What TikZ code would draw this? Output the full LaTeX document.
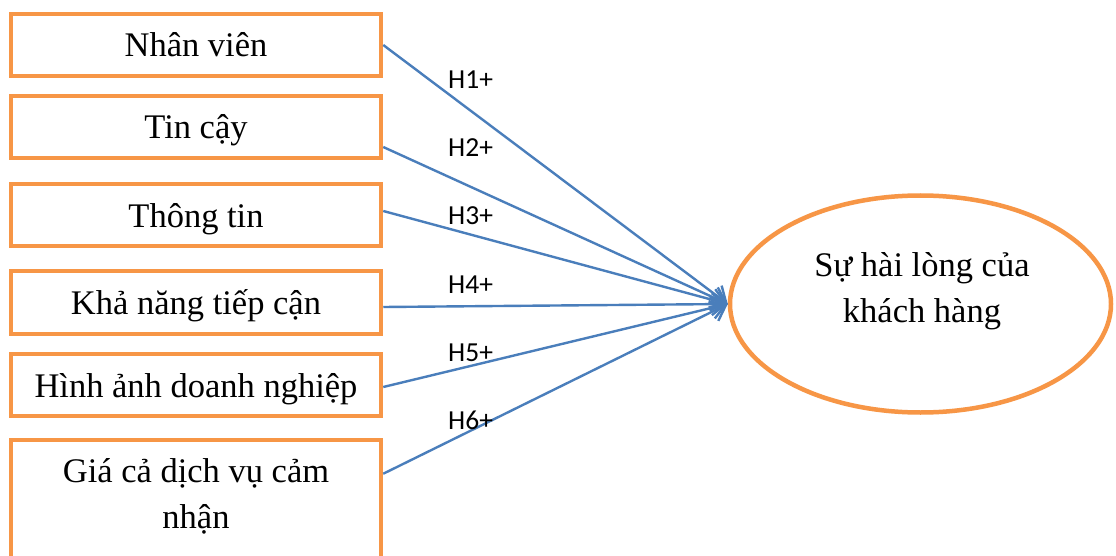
\documentclass[tikz,border=0pt]{standalone}
\usepackage{fontspec}
\setmainfont{Liberation Serif}
\newfontfamily\lblfont{Carlito}
\usetikzlibrary{arrows.meta,shapes.geometric}
\definecolor{boxorange}{HTML}{F79646}
\definecolor{arrblue}{HTML}{4A7EBB}
\tikzset{
  boxnode/.style={draw=boxorange, line width=4.5pt, rectangle, minimum width=370pt, minimum height=62pt, inner sep=0pt, text height=30pt, text depth=6pt, font=\fontsize{34.5}{46}\selectfont},
  txt/.style={inner sep=0pt, font=\fontsize{34.5}{46}\selectfont},
  hlabel/.style={inner sep=0pt, anchor=base west, font=\lblfont\fontsize{27.5}{33}\selectfont},
  conn/.style={draw=arrblue, line width=2.4pt, -{Straight Barb[length=14pt,width=22pt,line width=2.4pt]}},
}
\begin{document}
\begin{tikzpicture}[x=1pt,y=-1pt]
\useasboundingbox (0,0) rectangle (1116,556);
\fill[white] (0,0) rectangle (1116,556);
\clip (0,0) rectangle (1116,556);
\node[boxnode] (b1) at (196,45) {Nhân viên};
\node[boxnode] (b2) at (196,127) {Tin cậy};
\node[boxnode] (b3) at (196,215) {Thông tin};
\node[boxnode, minimum height=63pt] (b4) at (196,302.5) {Khả năng tiếp cận};
\node[boxnode] (b5) at (196,385) {Hình ảnh doanh nghiệp};
\node[boxnode, minimum height=150pt, anchor=north, text height=0pt, text depth=0pt] (b6) at (196,437.75) {};
\node[txt, anchor=base] (t6a) at (196,482) {Giá cả dịch vụ cảm};
\node[txt, anchor=base] (t6b) at (196,528) {nhận};
\node[draw=boxorange, line width=4.5pt, ellipse, minimum width=381pt, minimum height=217pt, inner sep=0pt] (e) at (920.5,304) {};
\node[txt, anchor=base] (et1) at (922,276) {Sự hài lòng của};
\node[txt, anchor=base] (et2) at (922,322) {khách hàng};
\draw[conn] (b1.east) -- (e.west);
\draw[conn] ([yshift=-20pt]b2.east) -- (e.west);
\draw[conn] ([yshift=4pt]b3.east) -- (e.west);
\draw[conn] ([yshift=-4.5pt]b4.east) -- (e.west);
\draw[conn] ([yshift=-2pt]b5.east) -- (e.west);
\draw[conn] ([yshift=-36pt]b6.north east) -- (e.west);
\node[hlabel] (h1) at (448,89) {H1+};
\node[hlabel] (h2) at (448,157) {H2+};
\node[hlabel] (h3) at (448,225) {H3+};
\node[hlabel] (h4) at (448,293) {H4+};
\node[hlabel] (h5) at (448,361) {H5+};
\node[hlabel] (h6) at (448,429) {H6+};
\end{tikzpicture}
\end{document}
